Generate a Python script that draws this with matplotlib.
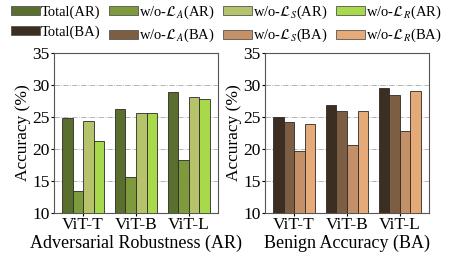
import numpy as np
import matplotlib
matplotlib.use('Agg')
import matplotlib.pyplot as plt
from matplotlib.patches import Patch

plt.rcParams['font.family'] = ['Liberation Serif', 'DejaVu Serif']
plt.rcParams['mathtext.fontset'] = 'stix'

models = ['ViT-T', 'ViT-B', 'ViT-L']
ar_total = [24.8, 26.2, 28.9]
ar_wo_a = [13.4, 15.6, 18.3]
ar_wo_s = [24.4, 25.7, 28.2]
ar_wo_r = [21.2, 25.7, 27.8]
ba_total = [25.0, 26.9, 29.6]
ba_wo_a = [24.2, 26.0, 28.4]
ba_wo_s = [19.7, 20.6, 22.8]
ba_wo_r = [23.9, 25.9, 29.1]

ar_labels = ['Total(AR)', r'w/o-$\mathcal{L}_A$(AR)', r'w/o-$\mathcal{L}_S$(AR)', r'w/o-$\mathcal{L}_R$(AR)']
ba_labels = ['Total(BA)', r'w/o-$\mathcal{L}_A$(BA)', r'w/o-$\mathcal{L}_S$(BA)', r'w/o-$\mathcal{L}_R$(BA)']
ar_colors = ['#5a6e2e', '#7d9a3c', '#b6c36a', '#a8d94a']
ba_colors = ['#3d2e22', '#7e5e43', '#c49068', '#e6aa78']

fig = plt.figure(figsize=(4.57, 2.61), dpi=100)
ax1 = fig.add_axes([54/457, 1-213/261, 164/457, 160/261])
ax2 = fig.add_axes([265/457, 1-213/261, 164/457, 160/261])

x = np.arange(len(models))
w = 0.2

def draw(ax, series, colors, xlabel):
  for i, (vals, c) in enumerate(zip(series, colors)):
    ax.bar(x + (i-1.5)*w, vals, w, color=c, edgecolor='#2a2a2a', lw=0.6, zorder=3)
  ax.set_ylim(10, 35)
  ax.set_xlim(-0.55, 2.55)
  ax.set_yticks([10, 15, 20, 25, 30, 35])
  ax.set_xticks(x)
  ax.set_xticklabels(models)
  ax.tick_params(axis='y', labelsize=12.5, length=2, pad=1)
  ax.tick_params(axis='x', labelsize=12.5, length=2, pad=1)
  ax.set_ylabel('Accuracy (%)', fontsize=12.5, labelpad=1)
  ax.set_xlabel(xlabel, fontsize=13, labelpad=1)
  ax.grid(axis='y', ls='-.', lw=0.6, color='#aaaaaa', zorder=0)
  for s in ax.spines.values():
    s.set_color('#555555')

draw(ax1, [ar_total, ar_wo_a, ar_wo_s, ar_wo_r], ar_colors, 'Adversarial Robustness (AR)')
draw(ax2, [ba_total, ba_wo_a, ba_wo_s, ba_wo_r], ba_colors, 'Benign Accuracy (BA)')

handles = []
labels = []
for c, l in zip(ar_colors + ba_colors, ar_labels + ba_labels):
  handles.append(Patch(facecolor=c, edgecolor='#555555', lw=0.6))
  labels.append(l)
# ncol fills column-wise, so reorder to put AR on first row
order = [0, 4, 1, 5, 2, 6, 3, 7]
fig.legend([handles[i] for i in order], [labels[i] for i in order], ncol=4,
           loc='upper center', bbox_to_anchor=(0.495, 1.01), frameon=False,
           fontsize=10.5, handlelength=2.0, handleheight=0.55, handletextpad=0.05,
           columnspacing=0.6, labelspacing=0.45, borderaxespad=0)

fig.savefig('out.png', dpi=100)
